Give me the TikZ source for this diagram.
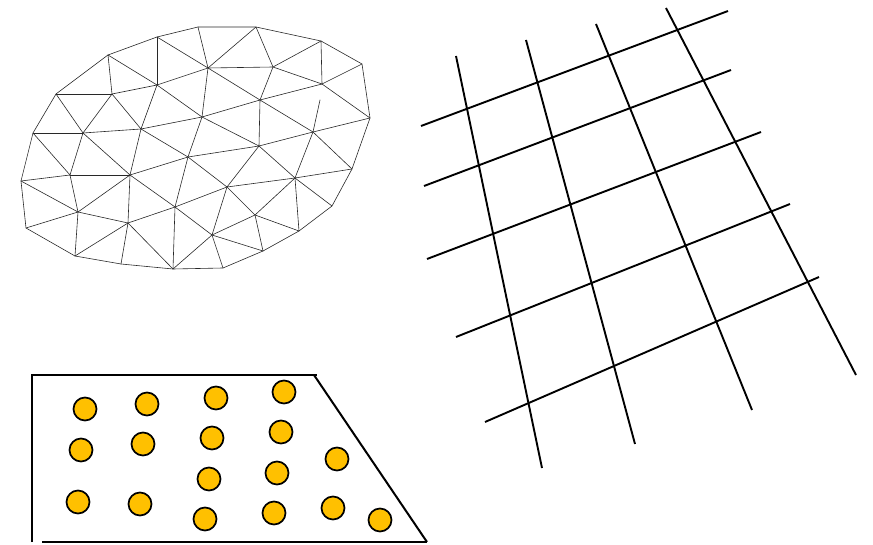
\documentclass[tikz,border=0pt]{standalone}
\usetikzlibrary{calc}
\definecolor{dotgold}{RGB}{255,192,0}
\definecolor{meshgray}{RGB}{40,40,40}
\begin{document}
\begin{tikzpicture}[x=1pt,y=-1pt,
  meshline/.style={draw=meshgray,line width=0.6pt,line cap=round},
  gridline/.style={draw=black,line width=1.9pt},
  frameline/.style={draw=black,line width=2.5pt},
  dot/.style={circle,draw=black,fill=dotgold,line width=1.7pt,minimum size=23pt,inner sep=0pt}]
\useasboundingbox (0,0) rectangle (873,545);
% ---------- mesh vertices ----------
\foreach \n/\p in {b1/{21,181},b2/{33,133},b3/{56,94},b4/{108,55},b5/{157,37},b6/{198,27},
  b7/{256,27},b8/{321,41},b9/{362,64},b10/{370,118},b11/{352,169},b12/{332,206},
  b13/{299,231},b14/{263,251},b15/{223,268},b16/{173,269},b17/{121,264},b18/{75,256},b19/{26,228},
  i1/{112,94},i2/{83,133},i3/{157,85},i4/{141,129},i5/{208,68},i6/{273,67},i7/{322,84},
  i8/{202,117},i9/{260,100},i10/{313,132},i11/{70,175},i12/{130,175},i13/{188,157},
  i14/{259,146},i15/{78,212},i16/{128,223},i17/{175,207},i18/{227,187},i19/{295,178},
  i20/{255,215},i21/{212,235},s1/{320,100}}
  {\coordinate (\n) at (\p);}
% boundary
\draw[meshline] (b1)--(b2)--(b3)--(b4)--(b5)--(b6)--(b7)--(b8)--(b9)--(b10)--(b11)--(b12)--(b13)--(b14)--(b15)--(b16)--(b17)--(b18)--(b19)--cycle;
% interior edges
\foreach \a/\b in {b3/i1,b3/i2,i1/i2,b2/i2,b4/i1,b4/i3,i1/i3,i1/i4,i2/i4,b5/i3,b5/i5,b6/i5,b7/i5,
  i3/i5,i5/i6,i3/i8,i5/i8,i5/i9,i8/i9,i4/i8,i3/i4,b7/i6,i6/b8,b8/i7,b9/i7,i6/i7,i6/i9,i9/i7,
  i7/b10,i9/i10,i10/b10,i10/b11,i10/i14,i10/i19,i9/i14,s1/i10,
  b2/i11,i2/i11,i2/i12,i4/i12,b1/i11,i11/i12,i12/i13,i4/i13,i13/i8,i13/i14,i13/i18,i13/i17,
  i8/i14,b1/i15,i11/i15,i15/i12,i12/i17,i12/i16,b19/i15,i15/i16,i16/i17,i15/b18,b18/i16,
  i16/b17,i16/b16,i17/b16,i17/i18,i17/i21,i14/i18,i14/i19,i18/i19,i18/i20,i18/i21,i19/b11,
  i19/b12,i19/b13,i19/i20,i20/b13,i20/b14,i20/i21,i21/b14,i21/b15,i21/b16}
  {\draw[meshline] (\a)--(\b);}
% ---------- grid ----------
\coordinate (v1s) at (456,56);  \coordinate (v1e) at (542,468);
\coordinate (v2s) at (526,40);  \coordinate (v2e) at (635,444);
\coordinate (v3s) at (596,24);  \coordinate (v3e) at (752,410);
\coordinate (v4s) at (666,8);   \coordinate (v4e) at (856,375);
\coordinate (h1s) at (421,126); \coordinate (h1e) at (728,11);
\coordinate (h2s) at (424,186); \coordinate (h2e) at (731,70);
\coordinate (h3s) at (427,259); \coordinate (h3e) at (761,132);
\coordinate (h4s) at (456,337); \coordinate (h4e) at (790,204);
\coordinate (h5s) at (485,422); \coordinate (h5e) at (819,277);
\foreach \k in {v1,v2,v3,v4,h1,h2,h3,h4,h5}{\draw[gridline] (\k s)--(\k e);}
% ---------- trapezoid ----------
\coordinate (tl) at (32,375);
\coordinate (tr) at (317,375);
\coordinate (ts) at (314,375);
\coordinate (lb) at (32,542);
\coordinate (bl) at (42,542);
\coordinate (br) at (427,542);
\draw[frameline] (lb)--(tl)--(tr);
\draw[frameline] (bl)--(br);
\draw[draw=black,line width=2pt] (ts)--(br);
% ---------- dots ----------
\foreach \n/\p in {c1/{85,409},c2/{147,404},c3/{216,398},c4/{284,392},
  c5/{81,450},c6/{143,444},c7/{212,438},c8/{281,432},c9/{337,459},
  c10/{209,479},c11/{277,473},
  c12/{78,502},c13/{140,504},c14/{205,519},c15/{274,513},c16/{333,508},c17/{380,520}}
  {\node[dot] (\n) at (\p) {};}
\end{tikzpicture}
\end{document}
